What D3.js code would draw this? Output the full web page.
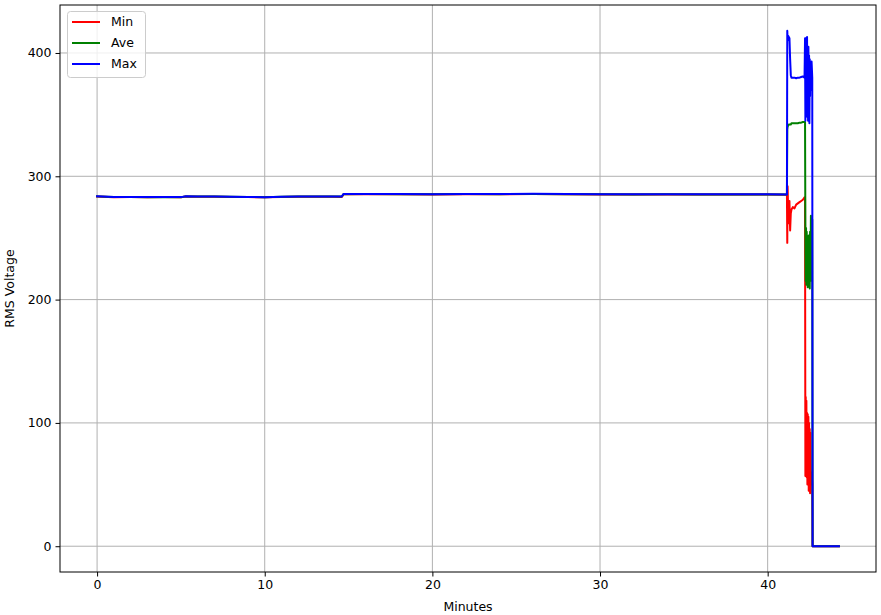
<!DOCTYPE html>
<html>
<head>
<meta charset="utf-8">
<script src="https://cdn.jsdelivr.net/npm/d3@7"></script>
<style>
  html, body { margin: 0; padding: 0; background: #fff; }
  svg { display: block; font-family: "DejaVu Sans", sans-serif; }
</style>
</head>
<body>
<svg id="chart" width="881" height="615"></svg>
<script>
// ---- data (minutes, RMS voltage) ----
const minutes = [
  0, 1, 2, 3, 4, 5, 5.3, 6, 7, 8, 9, 10, 11, 12, 13, 14, 14.6, 14.7, 16, 18, 20, 22, 24, 26, 28, 30, 32, 34, 36, 38, 40, 41.15,
  41.17, 41.19, 41.22, 41.26, 41.30, 41.34, 41.38, 41.42, 41.50, 41.60, 41.70, 41.80, 41.90, 42.00, 42.10, 42.20,
  42.23, 42.25, 42.27, 42.29, 42.31, 42.33, 42.35, 42.37, 42.39, 42.41, 42.43, 42.45, 42.47, 42.49, 42.51, 42.53, 42.55, 42.58, 42.62, 42.66,
  42.68, 43.5, 44.25
];
const minValues = [
  283.6, 283.0, 283.1, 283.0, 283.1, 283.0, 283.6, 283.5, 283.5, 283.3, 283.1, 282.9, 283.3, 283.5, 283.5, 283.5, 283.3, 285.4, 285.5, 285.4, 285.3, 285.5, 285.4, 285.6, 285.4, 285.3, 285.2, 285.3, 285.2, 285.2, 285.2, 285.0,
  246, 292, 275, 262, 280, 256, 270, 273, 275, 274, 277, 278, 279, 280, 281, 283,
  282, 57, 121, 60, 118, 56, 108, 50, 107, 55, 105, 45, 100, 48, 95, 43, 92, 50, 60, 50,
  0, 0, 0
];
const aveValues = [
  283.7, 283.1, 283.2, 283.0, 283.2, 283.0, 283.7, 283.6, 283.6, 283.4, 283.2, 283.0, 283.4, 283.6, 283.6, 283.6, 283.6, 285.5, 285.6, 285.5, 285.4, 285.6, 285.5, 285.7, 285.5, 285.4, 285.3, 285.4, 285.3, 285.3, 285.3, 285.2,
  338, 340, 341, 342, 342, 342, 342, 343, 343, 343, 343, 343, 343.5, 343.5, 344, 344,
  344, 256, 215, 258, 212, 255, 220, 250, 210, 248, 215, 252, 212, 245, 209, 255, 215, 268, 230, 265,
  0, 0, 0
];
const maxValues = [
  283.8, 283.2, 283.3, 283.1, 283.3, 283.1, 283.8, 283.7, 283.7, 283.5, 283.3, 283.0, 283.5, 283.7, 283.7, 283.7, 283.7, 285.6, 285.7, 285.6, 285.5, 285.7, 285.6, 285.8, 285.6, 285.5, 285.4, 285.5, 285.4, 285.4, 285.4, 285.3,
  418, 410, 414, 413, 412, 395, 382, 380, 380, 380, 379.5, 380, 380, 380.5, 381, 380,
  412, 345, 412, 352, 410, 362, 413, 348, 400, 345, 405, 360, 398, 343, 395, 365, 392, 370, 393, 380,
  0, 0, 0
];
const seriesNames = ["Min", "Ave", "Max"];
const seriesColors = ["#ff0000", "#008000", "#0000ff"];
const xTicks = [0, 10, 20, 30, 40];
const yTicks = [0, 100, 200, 300, 400];

// ---- layout ----
const svg = d3.select("#chart");
const m = { left: 60, right: 876, top: 5, bottom: 572 };

const xMin = d3.min(minutes), xMax = d3.max(minutes);
const xPad = (xMax - xMin) * 0.05;
const allY = minValues.concat(aveValues, maxValues);
const yMin = d3.min(allY), yMax = d3.max(allY);
const yPad = (yMax - yMin) * 0.05;

const x = d3.scaleLinear().domain([xMin - xPad, xMax + xPad]).range([m.left, m.right]);
const y = d3.scaleLinear().domain([yMin - yPad, yMax + yPad]).range([m.bottom, m.top]);

// grid
const grid = svg.append("g");
grid.selectAll("line.gx").data(xTicks).join("line")
  .attr("x1", d => x(d)).attr("x2", d => x(d))
  .attr("y1", m.top).attr("y2", m.bottom)
  .attr("stroke", "#b0b0b0").attr("stroke-width", 1);
grid.selectAll("line.gy").data(yTicks).join("line")
  .attr("x1", m.left).attr("x2", m.right)
  .attr("y1", d => y(d)).attr("y2", d => y(d))
  .attr("stroke", "#b0b0b0").attr("stroke-width", 1);

// lines
const series = [minValues, aveValues, maxValues];
const line = d3.line().x((d, i) => x(minutes[i])).y(d => y(d));
series.forEach((vals, k) => {
  svg.append("path")
    .datum(vals)
    .attr("d", line)
    .attr("fill", "none")
    .attr("stroke", seriesColors[k])
    .attr("stroke-width", 2)
    .attr("stroke-linejoin", "round")
    .attr("stroke-linecap", "square");
});

// axes
const xAxis = d3.axisBottom(x).tickValues(xTicks).tickSize(4.5).tickPadding(4).tickFormat(d3.format("d"));
const yAxis = d3.axisLeft(y).tickValues(yTicks).tickSize(4.5).tickPadding(4).tickFormat(d3.format("d"));
const gx = svg.append("g").attr("transform", `translate(0,${m.bottom})`).call(xAxis);
const gy = svg.append("g").attr("transform", `translate(${m.left},0)`).call(yAxis);
[gx, gy].forEach(g => {
  g.select(".domain").remove();
  g.selectAll("text").attr("font-size", "12.5px").attr("fill", "#000").attr("font-family", "DejaVu Sans, sans-serif");
  g.selectAll("line").attr("stroke", "#000").attr("stroke-width", 1);
});

// frame
svg.append("rect")
  .attr("x", m.left).attr("y", m.top)
  .attr("width", m.right - m.left).attr("height", m.bottom - m.top)
  .attr("fill", "none").attr("stroke", "#000").attr("stroke-width", 1);

// axis labels
svg.append("text")
  .attr("x", (m.left + m.right) / 2).attr("y", 611)
  .attr("text-anchor", "middle").attr("font-size", "12.5px")
  .text("Minutes");
svg.append("text")
  .attr("transform", `translate(14,${(m.top + m.bottom) / 2}) rotate(-90)`)
  .attr("text-anchor", "middle").attr("font-size", "12.5px")
  .text("RMS Voltage");

// legend
const lg = svg.append("g");
lg.append("rect")
  .attr("x", 67.5).attr("y", 11.5).attr("width", 78).attr("height", 66)
  .attr("rx", 3).attr("fill", "#fff").attr("fill-opacity", 0.8)
  .attr("stroke", "#cccccc");
seriesNames.forEach((name, i) => {
  const cy = 22 + i * 21;
  lg.append("line")
    .attr("x1", 72).attr("x2", 100).attr("y1", cy).attr("y2", cy)
    .attr("stroke", seriesColors[i]).attr("stroke-width", 2);
  lg.append("text")
    .attr("x", 111).attr("y", cy).attr("dy", "0.35em")
    .attr("font-size", "12.5px").attr("fill", "#000")
    .text(name);
});
</script>
</body>
</html>
